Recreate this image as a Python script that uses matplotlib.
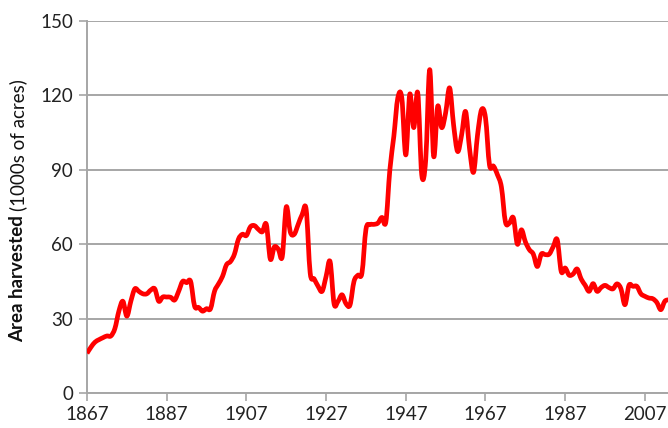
"""Area harvested per year, 1867 onwards."""

import matplotlib

matplotlib.use("Agg")
import matplotlib.pyplot as plt
import numpy as np
from matplotlib.patches import PathPatch
from matplotlib.path import Path

YEARS = list(range(1867, 2014))
AREA = [
    16, 18.5, 20.5, 21.5, 22.3, 23, 23, 26, 33, 37,  # 1867-1876
    31, 37, 42, 41, 40, 40, 41.5, 42, 37, 38.7,  # 1877-1886
    38.7, 38.6, 37.5, 41, 45, 44.5, 45, 35, 34.5, 33,  # 1887-1896
    34, 34, 41, 44, 47, 51.7, 53, 56, 62, 64,  # 1897-1906
    63.5, 67, 67.5, 66, 65, 68, 54, 58.9, 58, 55,  # 1907-1916
    75, 65, 64, 68, 72, 74, 48.5, 46, 43, 41,  # 1917-1926
    47, 53, 36, 37, 39.6, 36, 35.5, 45, 47.5, 48.4,  # 1927-1936
    66, 67.9, 68, 68.5, 70.8, 69, 90, 103.5, 119, 119,  # 1937-1946
    96, 120.5, 107, 121, 88, 94, 130.4, 95.4, 115.6, 107,  # 1947-1956
    113, 123, 108, 97.4, 104, 113.5, 98.5, 89, 104, 114.2,  # 1957-1966
    111, 92, 91.5, 88, 83, 69, 68.5, 70.6, 60, 65.8,  # 1967-1976
    61, 57.8, 56, 51, 56, 55.8, 56, 59, 61.8, 49,  # 1977-1986
    50.4, 47.5, 48, 50, 46, 43.5, 41, 44.1, 41, 42.5,  # 1987-1996
    43.4, 42.5, 42, 44, 42, 35.6, 43.4, 43, 43, 40,  # 1997-2006
    39, 38.3, 38, 36.5, 33.6, 37, 37.6,  # 2007-2013
]
X_TICKS = list(range(1867, 2008, 20))
Y_TICKS = [0, 30, 60, 90, 120, 150]

FONT = "Lato"
GREY = "#a6a6a6"


def smooth_path(x, y):
    # spreadsheet-style smoothed line: cubic bezier segments through every point
    pts = np.column_stack([x, y]).astype(float)
    ext = np.vstack([pts[0], pts, pts[-1]])
    verts = [pts[0]]
    codes = [Path.MOVETO]
    for i in range(1, len(ext) - 2):
        p0, p1, p2, p3 = ext[i - 1], ext[i], ext[i + 1], ext[i + 2]
        verts += [p1 + (p2 - p0) / 6, p2 - (p3 - p1) / 6, p2]
        codes += [Path.CURVE4] * 3
    return Path(verts, codes)


def main() -> None:
    fig = plt.figure(figsize=(6.68, 4.28), dpi=100)
    ax = fig.add_axes([87 / 668, 35 / 428, 581 / 668, 372 / 428])

    ax.add_patch(PathPatch(smooth_path(YEARS, AREA), facecolor="none", edgecolor="#ff0000",
                           linewidth=3.4, joinstyle="round", capstyle="butt", zorder=3))

    ax.set_xlim(1867, 2012.8)
    ax.set_ylim(0, 150)
    ax.set_xticks(X_TICKS)
    ax.set_yticks(Y_TICKS)
    ax.yaxis.grid(True, color=GREY, linewidth=1.4)
    ax.set_axisbelow(True)

    for side in ("top", "right"):
        ax.spines[side].set_visible(False)
    for side in ("left", "bottom"):
        ax.spines[side].set_color(GREY)
        ax.spines[side].set_linewidth(1.4)
    ax.tick_params(axis="both", color=GREY, width=1.2, length=6, direction="out",
                   labelsize=13.5, labelcolor="#222222")
    ax.tick_params(axis="x", pad=3)
    ax.tick_params(axis="y", pad=4)
    for lab in ax.get_xticklabels() + ax.get_yticklabels():
        lab.set_family(FONT)

    # y label: bold part followed by a regular part
    bold = fig.text(18 / 668, 86 / 428, "Area harvested", rotation=90, ha="center", va="bottom",
                    fontsize=13.5, fontweight="bold", family=FONT, color="#111111")
    fig.canvas.draw()
    bb = bold.get_window_extent(fig.canvas.get_renderer())
    fig.text(18 / 668, (bb.y1 + 4) / 428, "(1000s of acres)", rotation=90, ha="center",
             va="bottom", fontsize=13.5, family=FONT, color="#111111")

    fig.savefig("out.png", dpi=100)
    plt.close(fig)


if __name__ == "__main__":
    main()
